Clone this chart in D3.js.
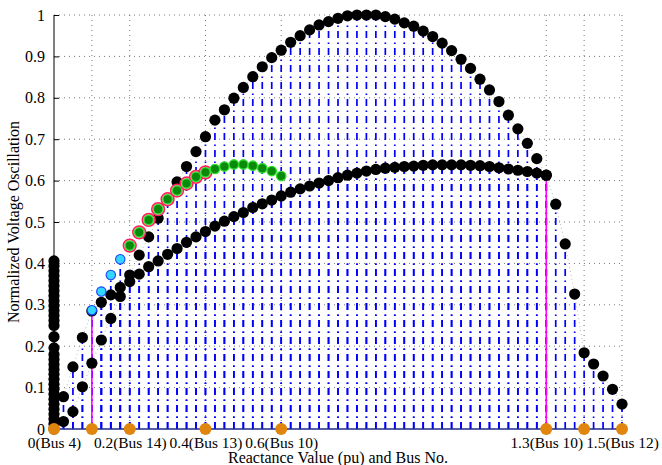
<!DOCTYPE html>
<html>
<head>
<meta charset="utf-8">
<script src="https://cdn.jsdelivr.net/npm/d3@7"></script>
<style>
  body { margin: 0; background: #fff; }
  svg text { font-family: "Liberation Serif", "Times New Roman", serif; fill: #000; }
</style>
</head>
<body>
<svg id="chart" width="662" height="465"></svg>
<script>
// reactance steps (pu) used by both arcs
var reactance = [0.025,0.05,0.075,0.1,0.125,0.15,0.175,0.2,0.225,0.25,0.275,0.3,0.325,0.35,0.375,0.4,
  0.425,0.45,0.475,0.5,0.525,0.55,0.575,0.6,0.625,0.65,0.675,0.7,0.725,0.75,0.775,0.8,0.825,0.85,
  0.875,0.9,0.925,0.95,0.975,1.0,1.025,1.05,1.075,1.1,1.125,1.15,1.175,1.2,1.225,1.25,1.275,1.3,
  1.325,1.35,1.375,1.4,1.425,1.45,1.475,1.5];

// upper arc (60 values)
var upperOsc = [0.018,0.042,0.102,0.159,0.215,0.267,0.320,0.372,0.420,0.464,
  0.509,0.553,0.597,0.634,0.670,0.706,0.746,0.771,0.799,0.825,
  0.851,0.875,0.897,0.915,0.934,0.950,0.964,0.976,0.984,0.992,
  0.998,1.0,1.0,1.0,0.996,0.990,0.981,0.973,0.961,0.948,
  0.932,0.914,0.893,0.871,0.845,0.819,0.791,0.758,0.725,0.690,
  0.653,0.613,0.543,0.447,0.326,0.184,0.157,0.128,0.096,0.060];

// lower arc (52 values, up to 1.3)
var lowerOsc = [0.078,0.150,0.221,0.285,0.306,0.324,0.342,0.356,0.374,0.392,
  0.406,0.422,0.436,0.451,0.464,0.477,0.490,0.502,0.513,0.523,
  0.535,0.544,0.553,0.563,0.572,0.580,0.587,0.594,0.600,0.607,
  0.613,0.618,0.623,0.627,0.630,0.632,0.634,0.635,0.637,0.638,
  0.638,0.638,0.638,0.637,0.636,0.634,0.631,0.628,0.625,0.622,
  0.618,0.613];

// points sitting on x = 0 (Bus 4)
var busZeroOsc = [0,0.012,0.024,0.036,0.048,0.06,0.072,0.084,0.096,0.108,0.12,0.132,0.144,0.156,
  0.168,0.18,0.196,0.223,0.25,0.262,0.274,0.286,0.298,0.31,0.322,0.334,0.346,0.358,0.37,0.382,0.394,0.406];

var cyanX = [0.1,0.125,0.15,0.175];
var cyanOsc = [0.287,0.332,0.372,0.410];

var greenX = [0.2,0.225,0.25,0.275,0.3,0.325,0.35,0.375,0.4,0.425,0.45,0.475,0.5,0.525,0.55,0.575,0.6];
var greenOsc = [0.443,0.475,0.505,0.531,0.555,0.576,0.593,0.609,0.620,0.628,0.634,0.639,0.639,0.636,0.630,0.623,0.611];
var redRingCount = 9;

var magentaX = [0,0.1,1.3];
var magentaOsc = [0.223,0.287,0.613];

var xTickVals = [0,0.1,0.2,0.4,0.6,1.3,1.4,1.5];
var xTickLabels = ["0(Bus 4)","","0.2(Bus 14)","0.4(Bus 13)","0.6(Bus 10)","1.3(Bus 10)","","1.5(Bus 12)"];
var yTickVals = [0,0.1,0.2,0.3,0.4,0.5,0.6,0.7,0.8,0.9,1];
var yTickLabels = ["0","0.1","0.2","0.3","0.4","0.5","0.6","0.7","0.8","0.9","1"];

function drawChart(){
  var svg = d3.select("#chart");
  var left = 54, right = 622, top = 15, bottom = 429;

  var x = d3.scaleLinear().domain([0,1.5]).range([left,right]);
  var y = d3.scaleLinear().domain([0,1]).range([bottom,top]);

  // grid
  var grid = svg.append("g").attr("stroke","#777").attr("stroke-width",1).attr("stroke-dasharray","1,4");
  grid.selectAll(".hg").data(yTickVals.slice(1)).enter().append("line")
    .attr("x1",left).attr("x2",right)
    .attr("y1",function(d){ return y(d); }).attr("y2",function(d){ return y(d); });
  grid.selectAll(".vg").data(xTickVals.slice(1)).enter().append("line")
    .attr("y1",top).attr("y2",bottom)
    .attr("x1",function(d){ return x(d); }).attr("x2",function(d){ return x(d); });

  // table of stem points
  var upperPts = reactance.map(function(r,i){ return {x:r, y:upperOsc[i]}; });
  var lowerPts = lowerOsc.map(function(v,i){ return {x:reactance[i], y:v}; });
  var zeroPts = busZeroOsc.map(function(v){ return {x:0, y:v}; });
  var cyanPts = cyanX.map(function(r,i){ return {x:r, y:cyanOsc[i]}; });
  var greenPts = greenX.map(function(r,i){ return {x:r, y:greenOsc[i], ring: i < redRingCount}; });
  var magentaPts = magentaX.map(function(r,i){ return {x:r, y:magentaOsc[i]}; });

  // faint dotted connectors
  var line = d3.line().x(function(d){ return x(d.x); }).y(function(d){ return y(d.y); });
  [upperPts, lowerPts].forEach(function(pts){
    svg.append("path").datum(pts).attr("d",line)
      .attr("fill","none").attr("stroke","#aaa").attr("stroke-width",0.8).attr("stroke-dasharray","1,3");
  });

  // blue dash-dot stems
  var stems = svg.append("g").attr("stroke","#0000ff").attr("stroke-width",1.7)
    .attr("stroke-dasharray","7,4,1.5,4.5");
  stems.selectAll("line").data(upperPts.concat(lowerPts, cyanPts)).enter().append("line")
    .attr("x1",function(d){ return x(d.x); }).attr("x2",function(d){ return x(d.x); })
    .attr("y1",y(0)).attr("y2",function(d){ return y(d.y); });

  // magenta stems
  svg.append("g").selectAll("line").data(magentaPts).enter().append("line")
    .attr("x1",function(d){ return x(d.x); }).attr("x2",function(d){ return x(d.x); })
    .attr("y1",y(0)).attr("y2",function(d){ return y(d.y); })
    .attr("stroke","#ff00ff").attr("stroke-width",1.6);

  // black markers
  svg.append("g").selectAll("circle").data(zeroPts.concat(lowerPts, upperPts)).enter().append("circle")
    .attr("cx",function(d){ return x(d.x); }).attr("cy",function(d){ return y(d.y); })
    .attr("r",5.6).attr("fill","#000");

  // cyan markers
  svg.append("g").selectAll("circle").data(cyanPts).enter().append("circle")
    .attr("cx",function(d){ return x(d.x); }).attr("cy",function(d){ return y(d.y); })
    .attr("r",4.7).attr("fill","#33d6ff").attr("stroke","#1f3fff").attr("stroke-width",1.1);

  // green markers, first ones ringed in red
  var green = svg.append("g");
  green.selectAll(".ring").data(greenPts.filter(function(d){ return d.ring; })).enter().append("circle")
    .attr("cx",function(d){ return x(d.x); }).attr("cy",function(d){ return y(d.y); })
    .attr("r",6.4).attr("fill","#ffb0c8").attr("stroke","#ff1f5a").attr("stroke-width",1.5);
  green.selectAll(".dot").data(greenPts).enter().append("circle")
    .attr("cx",function(d){ return x(d.x); }).attr("cy",function(d){ return y(d.y); })
    .attr("r",4.7).attr("fill","#0a8a0a").attr("stroke","#2fe02f").attr("stroke-width",1.3);

  // axes
  svg.append("line").attr("x1",left).attr("x2",left).attr("y1",top).attr("y2",bottom)
    .attr("stroke","#000").attr("stroke-width",1);
  svg.append("line").attr("x1",left).attr("x2",right).attr("y1",bottom).attr("y2",bottom)
    .attr("stroke","#1f2a8a").attr("stroke-width",1.6);

  var yAxis = d3.axisLeft(y).tickValues(yTickVals)
    .tickFormat(function(d,i){ return yTickLabels[i]; })
    .tickSizeInner(-5).tickSizeOuter(0).tickPadding(9);
  var ya = svg.append("g").attr("transform","translate(" + left + ",0)").call(yAxis);
  ya.select(".domain").remove();
  ya.selectAll("text").style("font-size","16px").style("font-family","Liberation Serif");

  var xAxis = d3.axisBottom(x).tickValues(xTickVals)
    .tickFormat(function(d,i){ return xTickLabels[i]; })
    .tickSizeInner(-5).tickSizeOuter(0).tickPadding(8);
  var xa = svg.append("g").attr("transform","translate(0," + bottom + ")").call(xAxis);
  xa.select(".domain").remove();
  xa.selectAll("text").style("font-size","15.4px").style("font-family","Liberation Serif");

  // orange bus markers on the baseline
  svg.append("g").selectAll("circle").data(xTickVals).enter().append("circle")
    .attr("cx",function(d){ return x(d); }).attr("cy",y(0))
    .attr("r",6).attr("fill","#e0860f");

  svg.append("text").attr("x",(left + right) / 2).attr("y",463)
    .attr("text-anchor","middle").style("font-size","16px")
    .text("Reactance Value (pu) and Bus No.");
  svg.append("text").attr("transform","translate(19," + (top + bottom) / 2 + ") rotate(-90)")
    .attr("text-anchor","middle").style("font-size","16px")
    .text("Normalized Voltage Oscillation");
}

drawChart();
</script>
</body>
</html>
